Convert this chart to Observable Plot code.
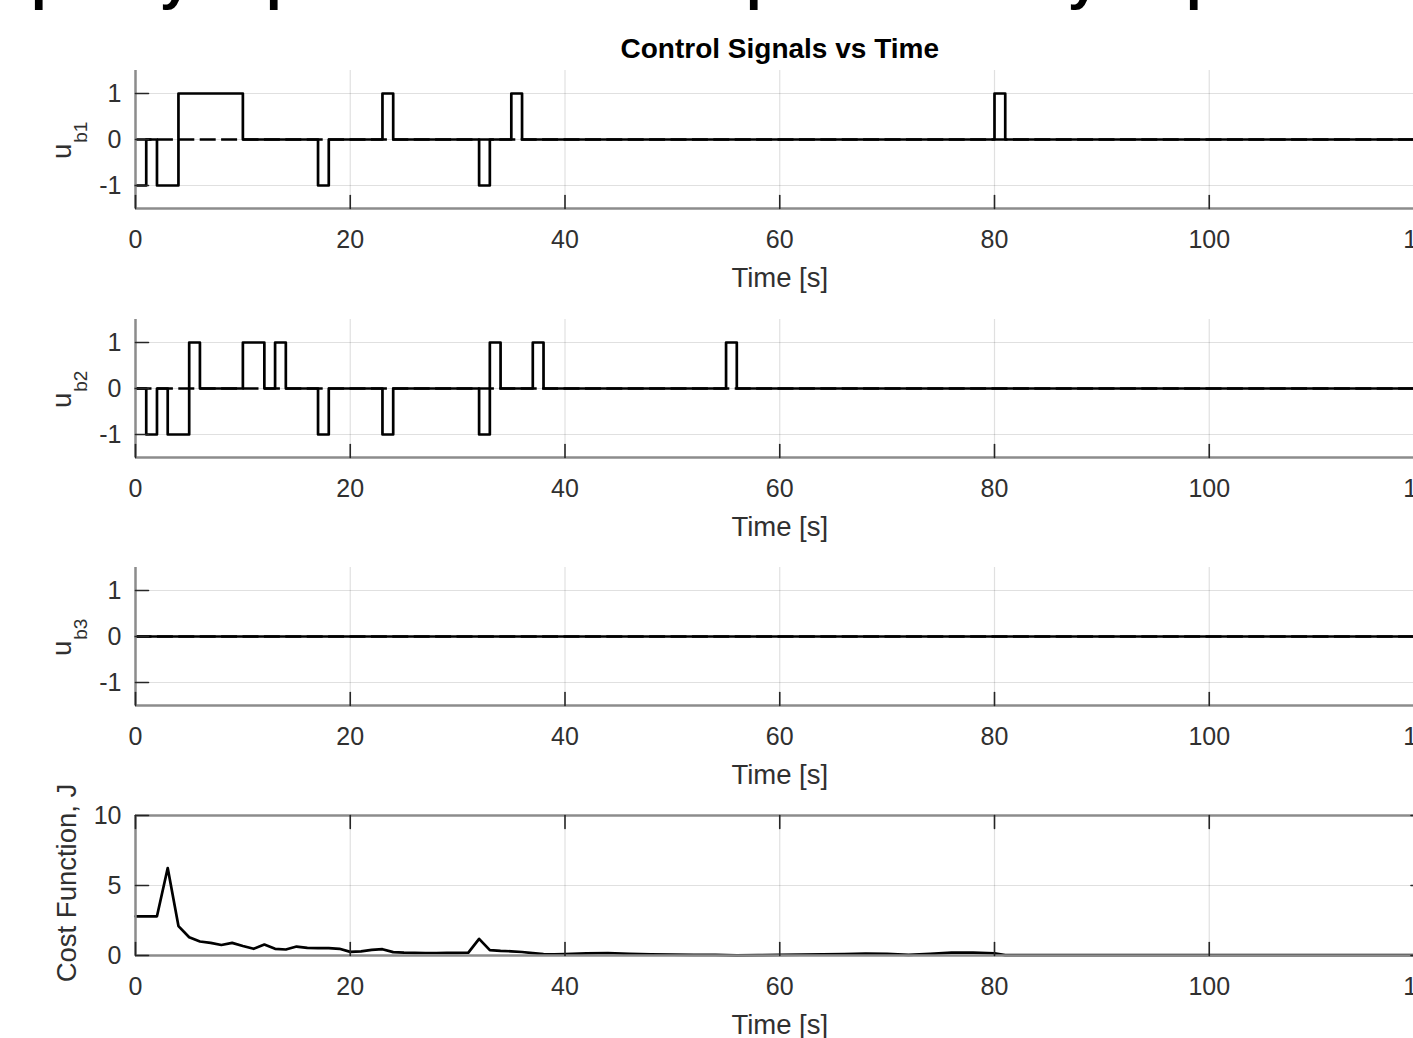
<!DOCTYPE html>
<html>
<head>
<meta charset="utf-8">
<script src="https://cdn.jsdelivr.net/npm/d3@7"></script>
<script src="https://cdn.jsdelivr.net/npm/@observablehq/plot@0.6"></script>
<style>
  html, body { margin: 0; padding: 0; background: #fff; width: 1413px; height: 1038px; overflow: hidden; }
  #wrap { position: relative; width: 1413px; height: 1038px; overflow: hidden; font-family: "Liberation Sans", Arial, Helvetica, sans-serif; }
  .panel { position: absolute; left: 0; width: 1440px; }
  .panel svg { max-width: none !important; width: 1440px; height: auto; display: block; }
  #clipText { position: absolute; left: 0; top: 0; width: 1413px; height: 12px; overflow: hidden; display: block; }
</style>
</head>
<body>
<div id="wrap">
  <svg id="clipText" width="1413" height="12" font-family="Liberation Sans, Arial, sans-serif" font-weight="bold" font-size="56">
    <text x="31" y="-2">p</text><text x="160" y="-2">y</text><text x="266" y="-2">p</text>
    <text x="746" y="-2">p</text><text x="1068" y="-2">y</text><text x="1186" y="-2">p</text>
  </svg>
  <div class="panel" id="p1" style="top:0px"></div>
  <div class="panel" id="p2" style="top:308.5px"></div>
  <div class="panel" id="p3" style="top:557px"></div>
  <div class="panel" id="p4" style="top:805px"></div>
</div>
<script>
// ---------- data ----------
const xTicks = [0, 20, 40, 60, 80, 100, 120];
const uTicks = [-1, 0, 1];
const jTicks = [0, 5, 10];

const ub1Times  = [0, 1, 2, 4, 10, 17, 18, 23, 24, 32, 33, 35, 36, 80, 81, 120];
const ub1Values = [-1, 0, -1, 1, 0, -1, 0, 1, 0, -1, 0, 1, 0, 1, 0, 0];

const ub2Times  = [0, 1, 2, 3, 5, 6, 10, 12, 13, 14, 17, 18, 23, 24, 32, 33, 34, 37, 38, 55, 56, 120];
const ub2Values = [0, -1, 0, -1, 1, 0, 1, 0, 1, 0, -1, 0, -1, 0, -1, 1, 0, 1, 0, 1, 0, 0];

const ub3Times  = [0, 120];
const ub3Values = [0, 0];

const refTimes  = [0, 120];
const refValues = [0, 0];

const jTimes  = [0, 1, 2, 3, 4, 5, 6, 7, 8, 9, 10, 11, 12, 13, 14, 15, 16, 17, 18, 19, 20,
                 21, 22, 23, 24, 25, 26, 27, 28, 29, 30, 31, 32, 33, 34, 35, 36, 37, 38, 39, 40,
                 42, 44, 46, 48, 50, 52, 54, 56, 58, 60, 62, 64, 66, 68, 70, 72, 74, 76, 78, 80,
                 81, 85, 90, 100, 110, 120];
const jValues = [2.8, 2.8, 2.8, 6.25, 2.1, 1.3, 1.0, 0.9, 0.75, 0.9, 0.68, 0.48, 0.78, 0.48, 0.43, 0.64, 0.55, 0.53, 0.52, 0.48, 0.26,
                 0.3, 0.4, 0.45, 0.24, 0.2, 0.19, 0.18, 0.18, 0.19, 0.19, 0.2, 1.19, 0.38, 0.33, 0.3, 0.25, 0.17, 0.1, 0.08, 0.1,
                 0.15, 0.18, 0.12, 0.08, 0.06, 0.05, 0.05, 0.01, 0.02, 0.04, 0.06, 0.08, 0.1, 0.14, 0.12, 0.05, 0.12, 0.2, 0.2, 0.15,
                 0.03, 0.02, 0.02, 0.02, 0.02, 0.02];

const toRows = (ts, vs) => ts.map((t, i) => ({t, v: vs[i]}));

// ---------- styling ----------
const W = 1440, ML = 135, MR = 16.5;
const FONT = '"Liberation Sans", Arial, Helvetica, sans-serif';
const tickShape = {draw(ctx, l) { ctx.moveTo(0, 0); ctx.lineTo(0, -l); }};
const AXIS = "#8c8c8c", TICK = "#262626", TXT = "#303030";

function panel({rows, step, yDomain, yTicks, plotH, marginTop, marginBottom, box, ylabel, title, dashed}) {
  const [y0, y1] = yDomain;
  const marks = [
    Plot.gridX(xTicks, {stroke: "#000", strokeOpacity: 0.12, strokeWidth: 1.2}),
    Plot.gridY(yTicks, {stroke: "#000", strokeOpacity: 0.12, strokeWidth: 1.2}),
  ];
  if (dashed) marks.push(Plot.line(toRows(refTimes, refValues), {x: "t", y: "v", stroke: "#000", strokeWidth: 2.6, strokeDasharray: "16,5.4", strokeLinecap: "butt"}));
  marks.push(Plot.line(rows, {x: "t", y: "v", curve: step ? "step-after" : "linear", stroke: "#000", strokeWidth: 2.7}));
  // axis lines
  marks.push(Plot.ruleX([0], {stroke: AXIS, strokeWidth: 2.5}));
  marks.push(Plot.ruleY([y0], {stroke: AXIS, strokeWidth: 2.5}));
  if (box) {
    marks.push(Plot.ruleY([y1], {stroke: AXIS, strokeWidth: 2.5}));
    marks.push(Plot.ruleX([120], {stroke: AXIS, strokeWidth: 2.5}));
  }
  // inward ticks
  marks.push(Plot.vector(xTicks, {x: d => d, y: y0, length: 13, rotate: 0, anchor: "start", shape: tickShape, stroke: TICK, strokeWidth: 1.6}));
  marks.push(Plot.vector(yTicks, {x: 0, y: d => d, length: 13, rotate: 90, anchor: "start", shape: tickShape, stroke: TICK, strokeWidth: 1.6}));
  if (box) {
    marks.push(Plot.vector(xTicks, {x: d => d, y: y1, length: 13, rotate: 180, anchor: "start", shape: tickShape, stroke: TICK, strokeWidth: 1.6}));
    marks.push(Plot.vector(yTicks, {x: 120, y: d => d, length: 13, rotate: -90, anchor: "start", shape: tickShape, stroke: TICK, strokeWidth: 1.6}));
  }
  // tick labels
  marks.push(Plot.axisX({ticks: xTicks, tickSize: 0, tickPadding: 22, label: null, tickFormat: d => String(d), fontSize: 25}));
  marks.push(Plot.axisY({ticks: yTicks, tickSize: 0, tickPadding: 14, label: null, tickFormat: d => String(d), fontSize: 25}));
  // x label
  marks.push(Plot.text(["Time [s]"], {text: d => d, frameAnchor: "bottom", dy: 58.7, lineAnchor: "top", fontSize: 27.5, fill: TXT}));
  // y label
  if (ylabel.sub) {
    marks.push(Plot.text([ylabel.main], {text: d => d, frameAnchor: "left", dx: -65, dy: 11.8, rotate: -90, lineAnchor: "bottom", textAnchor: "middle", fontSize: 27.5, fill: TXT}));
    marks.push(Plot.text([ylabel.sub], {text: d => d, frameAnchor: "left", dx: -48.3, dy: -7.3, rotate: -90, lineAnchor: "bottom", textAnchor: "middle", fontSize: 19, fill: TXT}));
  } else {
    marks.push(Plot.text([ylabel.main], {text: d => d, frameAnchor: "left", dx: -60, dy: -2.5, rotate: -90, lineAnchor: "bottom", textAnchor: "middle", fontSize: 27.5, fill: TXT}));
  }
  if (title) {
    marks.push(Plot.text([title], {text: d => d, frameAnchor: "top", dy: -13, lineAnchor: "bottom", fontSize: 28, fontWeight: "bold", fill: "#000"}));
  }
  return Plot.plot({
    width: W,
    height: marginTop + plotH + marginBottom,
    marginLeft: ML, marginRight: MR, marginTop, marginBottom,
    x: {domain: [0, 120]},
    y: {domain: yDomain},
    style: {fontFamily: FONT, fontSize: "25px", color: TXT, background: "transparent", overflow: "visible", maxWidth: "none"},
    marks
  });
}

document.getElementById("p1").append(panel({
  rows: toRows(ub1Times, ub1Values), step: true, yDomain: [-1.5, 1.5], yTicks: uTicks,
  plotH: 138, marginTop: 70, marginBottom: 92, box: false, dashed: true,
  ylabel: {main: "u", sub: "b1"}, title: "Control Signals vs Time"
}));
document.getElementById("p2").append(panel({
  rows: toRows(ub2Times, ub2Values), step: true, yDomain: [-1.5, 1.5], yTicks: uTicks,
  plotH: 138, marginTop: 10, marginBottom: 92, box: false, dashed: true,
  ylabel: {main: "u", sub: "b2"}
}));
document.getElementById("p3").append(panel({
  rows: toRows(ub3Times, ub3Values), step: true, yDomain: [-1.5, 1.5], yTicks: uTicks,
  plotH: 138, marginTop: 10, marginBottom: 92, box: false, dashed: true,
  ylabel: {main: "u", sub: "b3"}
}));
document.getElementById("p4").append(panel({
  rows: toRows(jTimes, jValues), step: false, yDomain: [0, 10], yTicks: jTicks,
  plotH: 140, marginTop: 10, marginBottom: 83, box: true, dashed: false,
  ylabel: {main: "Cost Function, J"}
}));
</script>
</body>
</html>
